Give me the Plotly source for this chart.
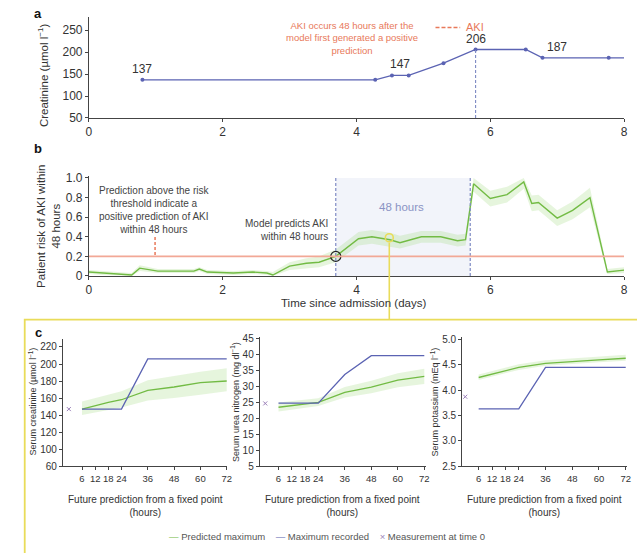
import plotly.graph_objects as go

# ---------------- DATA ----------------
# Panel a: creatinine measurements (days since admission, umol/l)
creat_days = [0.8, 4.28, 4.53, 4.78, 5.3, 5.78, 6.53, 6.78, 7.77]
creat_vals = [137, 137, 147, 147, 175, 206, 206, 187, 187]
creat_end_day = 8.0
aki_day = 5.78
label_idx = [0, 2, 5, 7]
label_days = [0.8, 4.65, 5.78, 7.0]

# Panel b: model risk of AKI within 48 h
risk_days = [0, 0.2, 0.64, 0.76, 1.03, 1.27, 1.57, 1.65, 1.77, 2.16, 2.45, 2.66, 2.75,
             3.0, 3.25, 3.44, 3.69, 4.03, 4.23, 4.5, 4.65, 4.97, 5.26, 5.51, 5.63,
             5.75, 6.0, 6.25, 6.5, 6.62, 6.72, 7.0, 7.23, 7.49, 7.75, 8.0]
risk = [0.04, 0.03, 0.01, 0.08, 0.05, 0.05, 0.05, 0.07, 0.04, 0.03, 0.04, 0.03, 0.01,
        0.10, 0.13, 0.14, 0.20, 0.38, 0.40, 0.37, 0.34, 0.40, 0.40, 0.36, 0.37,
        0.94, 0.79, 0.83, 0.96, 0.74, 0.75, 0.59, 0.67, 0.80, 0.04, 0.06]
risk_lo = [0.02, 0.01, 0.0, 0.05, 0.03, 0.03, 0.03, 0.05, 0.02, 0.01, 0.02, 0.01, 0.0,
           0.06, 0.08, 0.09, 0.14, 0.31, 0.33, 0.30, 0.28, 0.34, 0.34, 0.30, 0.31,
           0.86, 0.71, 0.75, 0.89, 0.66, 0.67, 0.51, 0.58, 0.70, 0.02, 0.03]
risk_hi = [0.06, 0.05, 0.03, 0.11, 0.07, 0.07, 0.07, 0.09, 0.06, 0.05, 0.06, 0.05, 0.04,
           0.14, 0.18, 0.20, 0.27, 0.45, 0.47, 0.44, 0.41, 0.46, 0.46, 0.42, 0.43,
           1.0, 0.87, 0.91, 1.0, 0.82, 0.83, 0.67, 0.76, 0.90, 0.07, 0.09]
threshold = 0.2
pred_day = 3.69
window_end = 5.70
fixed_day = 4.49
fixed_risk = 0.39

# Panel c: future predictions from a fixed point (hours)
hours_pred = [6, 12, 18, 24, 36, 48, 60, 72]
creat_pred = [147, 151, 155, 158, 169, 173, 178, 180]
creat_lo = [140, 143, 146, 149, 157, 160, 164, 168]
creat_hi = [156, 160, 164, 168, 181, 186, 191, 195]
creat_rec_h = [6, 24, 36, 72]
creat_rec = [147, 147, 206, 206]
creat_t0 = 147

urea_pred = [23.5, 24.0, 24.5, 25.0, 28.2, 29.8, 32.0, 33.2]
urea_lo = [22.2, 22.8, 23.4, 23.9, 26.6, 27.9, 29.8, 30.8]
urea_hi = [25.0, 25.4, 25.8, 26.3, 29.9, 31.8, 34.2, 35.6]
urea_rec_h = [6, 24, 36, 48, 72]
urea_rec = [24.8, 24.8, 33.8, 39.7, 39.7]
urea_t0 = 24.7

pot_pred = [4.25, 4.32, 4.39, 4.45, 4.53, 4.57, 4.60, 4.63]
pot_lo = [4.20, 4.27, 4.34, 4.40, 4.48, 4.52, 4.55, 4.58]
pot_hi = [4.31, 4.38, 4.45, 4.51, 4.59, 4.63, 4.67, 4.70]
pot_rec_h = [6, 24, 36, 72]
pot_rec = [3.63, 3.63, 4.45, 4.45]
pot_t0 = 3.87

hour_ticks = [6, 12, 18, 24, 36, 48, 60, 72]
creat_ticks = [80, 100, 120, 140, 160, 180, 200, 220]
creat_ticktext = ["60", "100", "120", "140", "160", "180", "200", "220"]
urea_ticks = [5, 10, 15, 20, 25, 30, 35, 40, 45]
pot_ticks = [2.5, 3.0, 3.5, 4.0, 4.5, 5.0]

# ---------------- STYLE ----------------
W, H = 637, 553
def px(x):
    return x / W
def py(y):
    return 1 - y / H

FONT = "Liberation Sans, Arial, Helvetica, sans-serif"
BLUE = "#5b63b3"
GREEN = "#72bb44"
BAND = "rgba(160,215,125,0.26)"
ORANGE = "#e8795a"
SALMON = "#f2a896"
DASHBLUE = "#7e8ac4"
YELLOW = "#e9dc5a"
AXC = "#444444"
TXT = "#333333"

fig = go.Figure()

# ---- panel a ----
fig.add_trace(go.Scatter(x=creat_days + [creat_end_day], y=creat_vals + [creat_vals[-1]],
                         mode="lines", line=dict(color=BLUE, width=1.3),
                         xaxis="x", yaxis="y", showlegend=False, hoverinfo="skip"))
fig.add_trace(go.Scatter(x=creat_days, y=creat_vals, mode="markers",
                         marker=dict(color=BLUE, size=4),
                         xaxis="x", yaxis="y", showlegend=False))

# ---- panel b ----
fig.add_trace(go.Scatter(x=risk_days, y=risk_lo, mode="lines", line=dict(width=0),
                         xaxis="x2", yaxis="y2", showlegend=False, hoverinfo="skip"))
fig.add_trace(go.Scatter(x=risk_days, y=risk_hi, mode="lines", line=dict(width=0),
                         fill="tonexty", fillcolor=BAND,
                         xaxis="x2", yaxis="y2", showlegend=False, hoverinfo="skip"))
fig.add_trace(go.Scatter(x=risk_days, y=risk, mode="lines", line=dict(color=GREEN, width=1.4),
                         xaxis="x2", yaxis="y2", showlegend=False))
fig.add_trace(go.Scatter(x=[pred_day], y=[threshold], mode="markers",
                         marker=dict(symbol="circle-open", size=10, color="#222222",
                                     line=dict(width=1.3)),
                         xaxis="x2", yaxis="y2", showlegend=False))
fig.add_trace(go.Scatter(x=[fixed_day], y=[fixed_risk], mode="markers",
                         marker=dict(symbol="circle-open", size=8, color=YELLOW,
                                     line=dict(width=1.6)),
                         xaxis="x2", yaxis="y2", showlegend=False))

# ---- panel c ----
tests = [
    (creat_pred, creat_lo, creat_hi, creat_rec_h, creat_rec, creat_t0, "x3", "y3"),
    (urea_pred, urea_lo, urea_hi, urea_rec_h, urea_rec, urea_t0, "x4", "y4"),
    (pot_pred, pot_lo, pot_hi, pot_rec_h, pot_rec, pot_t0, "x5", "y5"),
]
for pred, lo, hi, rh, rec, t0, xa, ya in tests:
    fig.add_trace(go.Scatter(x=hours_pred, y=lo, mode="lines", line=dict(width=0),
                             xaxis=xa, yaxis=ya, showlegend=False, hoverinfo="skip"))
    fig.add_trace(go.Scatter(x=hours_pred, y=hi, mode="lines", line=dict(width=0),
                             fill="tonexty", fillcolor=BAND,
                             xaxis=xa, yaxis=ya, showlegend=False, hoverinfo="skip"))
    fig.add_trace(go.Scatter(x=hours_pred, y=pred, mode="lines",
                             line=dict(color=GREEN, width=1.3),
                             xaxis=xa, yaxis=ya, name="Predicted maximum", showlegend=False))
    fig.add_trace(go.Scatter(x=rh, y=rec, mode="lines", line=dict(color=BLUE, width=1.3),
                             xaxis=xa, yaxis=ya, name="Maximum recorded", showlegend=False))
    fig.add_trace(go.Scatter(x=[0], y=[t0], mode="markers",
                             marker=dict(symbol="x-thin", size=4, color="#9a7fb8",
                                         line=dict(width=1, color="#9a7fb8")),
                             xaxis=xa, yaxis=ya, name="Measurement at time 0",
                             showlegend=False))

# ---------------- AXES ----------------
def axstyle(size):
    return dict(showgrid=False, zeroline=False, showline=True, linecolor=AXC, linewidth=1,
                ticks="outside", ticklen=3, tickcolor=AXC, tickwidth=1, tickangle=0,
                tickfont=dict(family=FONT, size=size, color=TXT))

layout = dict(
    width=W, height=H, margin=dict(l=0, r=0, t=0, b=0),
    paper_bgcolor="white", plot_bgcolor="rgba(0,0,0,0)",
    font=dict(family=FONT, color=TXT),
    showlegend=False,
    xaxis=dict(**axstyle(12), domain=[px(87), px(629)], range=[0, 8],
               tickvals=[0, 2, 4, 6, 8], anchor="y"),
    yaxis=dict(**axstyle(12), domain=[py(116.3), py(13.3)], range=[50, 280],
               tickvals=[50, 100, 150, 200, 250], anchor="x"),
    xaxis2=dict(**axstyle(12), domain=[px(87), px(629)], range=[0, 8],
                tickvals=[0, 2, 4, 6, 8], anchor="y2"),
    yaxis2=dict(**axstyle(12), domain=[py(277.5), py(175)], range=[0, 1.025],
                tickvals=[0, 0.2, 0.4, 0.6, 0.8, 1.0],
                ticktext=["0", "0.2", "0.4", "0.6", "0.8", "1.0"], anchor="x2"),
    xaxis3=dict(**axstyle(9.5), domain=[px(60.7), px(227)], range=[-2.7, 72.2],
                tickvals=hour_ticks, anchor="y3"),
    yaxis3=dict(**axstyle(10), domain=[py(471.5), py(341.7)], range=[80, 229.5],
                tickvals=creat_ticks, ticktext=creat_ticktext, anchor="x3"),
    xaxis4=dict(**axstyle(9.5), domain=[px(260), px(428)], range=[-2.5, 72.6],
                tickvals=hour_ticks, anchor="y4"),
    yaxis4=dict(**axstyle(10), domain=[py(471.5), py(340)], range=[5, 45.5],
                tickvals=urea_ticks, anchor="x4"),
    xaxis5=dict(**axstyle(9.5), domain=[px(465), px(632)], range=[-1.4, 72.6],
                tickvals=hour_ticks, anchor="y5"),
    yaxis5=dict(**axstyle(10), domain=[py(471.5), py(340)], range=[2.5, 5.045],
                tickvals=pot_ticks, tickformat=".1f", anchor="x5"),
)
fig.update_layout(**layout)

# ---------------- SHAPES ----------------
shapes = []
# panel a AKI dashed line
shapes.append(dict(type="line", xref="x", yref="y", x0=aki_day, x1=aki_day,
                   y0=50, y1=creat_vals[creat_days.index(aki_day)],
                   line=dict(color=DASHBLUE, width=1.1, dash="3px,2px")))
# AKI legend key
shapes.append(dict(type="line", xref="paper", yref="paper", x0=px(438), x1=px(463),
                   y0=py(24), y1=py(24), line=dict(color=ORANGE, width=1.5, dash="4px,2px")))
# panel b 48h window
shapes.append(dict(type="rect", xref="x2", yref="y2", x0=pred_day, x1=window_end,
                   y0=0, y1=1.0, fillcolor="#f2f4fa", line=dict(width=0), layer="below"))
for xv in (pred_day, window_end):
    shapes.append(dict(type="line", xref="x2", yref="y2", x0=xv, x1=xv, y0=0, y1=1.0,
                       line=dict(color=DASHBLUE, width=1.2, dash="3px,2px")))
# threshold line
shapes.append(dict(type="line", xref="x2", yref="y2", x0=0, x1=8, y0=threshold, y1=threshold,
                   line=dict(color=SALMON, width=1.6)))
# red dashed pointer
shapes.append(dict(type="line", xref="paper", yref="paper", x0=px(154), x1=px(154),
                   y0=py(256), y1=py(237), line=dict(color=ORANGE, width=1.5, dash="3px,2px")))
# yellow box for panel c
shapes.append(dict(type="rect", xref="paper", yref="paper", x0=px(22), x1=1.05,
                   y0=-0.05, y1=py(322), line=dict(color=YELLOW, width=1.8),
                   fillcolor="rgba(0,0,0,0)", layer="below"))
# yellow connector from fixed point
shapes.append(dict(type="line", xref="x2", yref="paper", x0=fixed_day, x1=fixed_day,
                   y0=py(322), y1=py(243.5), line=dict(color=YELLOW, width=1.6)))
fig.update_layout(shapes=shapes)

# ---------------- ANNOTATIONS ----------------
ann = []
def text(x, y, s, size=11, color=TXT, xanchor="center", yanchor="middle", align="center",
         angle=0, bold=False, xref="paper", yref="paper", yshift=0):
    if bold:
        s = "<b>" + s + "</b>"
    ann.append(dict(x=x, y=y, xref=xref, yref=yref, text=s, showarrow=False,
                    font=dict(family=FONT, size=size, color=color), xanchor=xanchor,
                    yanchor=yanchor, align=align, textangle=angle, yshift=yshift))

# panel labels
text(px(35), py(10), "a", size=13, color="#111", bold=True)
text(px(35), py(147), "b", size=13, color="#111", bold=True)
text(px(36), py(335), "c", size=13, color="#111", bold=True)

# panel a
text(px(40), py(72), "Creatinine (µmol l<sup>−1</sup>)", size=11.5, angle=-90)
for i, d in zip(label_idx, label_days):
    text(d, creat_vals[i], str(creat_vals[i]), size=12, xref="x", yref="y",
         yanchor="bottom", yshift=2)
text(px(353), py(35), "AKI occurs 48 hours after the<br>model first generated a positive<br>prediction",
     size=9.5, color=ORANGE)
text(px(467), py(23), "AKI", size=11, color=ORANGE, xanchor="left")

# panel b
text(px(46), py(227), "Patient risk of AKI within<br>48 hours", size=11.5, angle=-90)
text(px(153), py(210), "Prediction above the risk<br>threshold indicate a<br>positive prediction of AKI<br>within 48 hours",
     size=10, color="#444")
text(px(331), py(231), "Model predicts AKI<br>within 48 hours", size=10, color="#444",
     xanchor="right", align="right")
text(px(404), py(207), "48 hours", size=11.5, color="#8a93c4")
text(px(355), py(305), "Time since admission (days)", size=11.5)

# panel c
text(px(30), py(406), "Serum creatinine (µmol l<sup>−1</sup>)", size=9, angle=-90)
text(px(235), py(406), "Serum urea nitrogen (mg dl<sup>−1</sup>)", size=9, angle=-90)
text(px(437), py(406), "Serum potassium (mEq l<sup>−1</sup>)", size=9, angle=-90)
for cx in (144, 344, 548):
    text(px(cx), py(512), "Future prediction from a fixed point<br>(hours)", size=10)
text(px(328), py(543),
     "<span style='color:%s'>—</span> Predicted maximum    "
     "<span style='color:%s'>—</span> Maximum recorded    "
     "<span style='color:#9a7fb8'>×</span> Measurement at time 0" % (GREEN, BLUE),
     size=9.5, color="#555")
fig.update_layout(annotations=ann)

fig.write_html("out.html")
